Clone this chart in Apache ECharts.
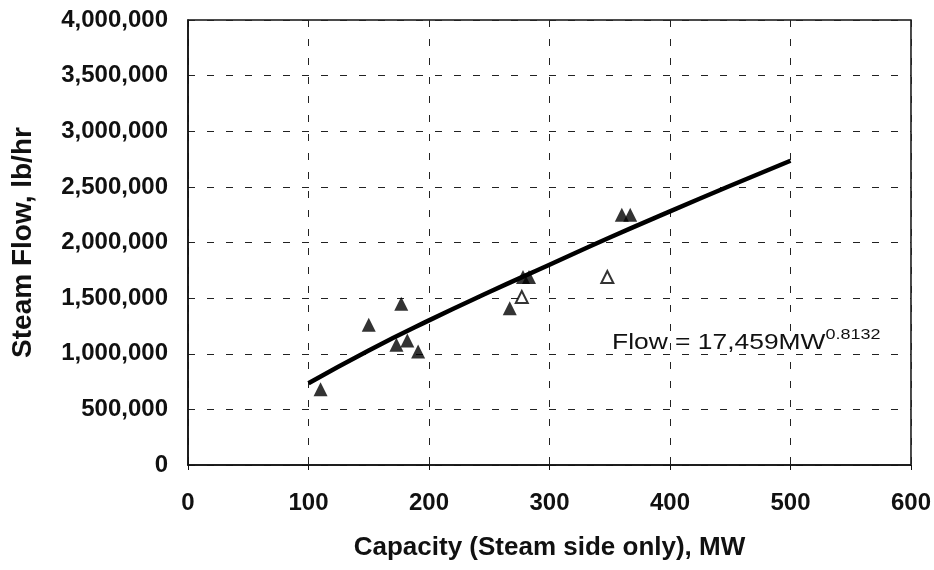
<!DOCTYPE html>
<html>
<head>
<meta charset="utf-8">
<title>Steam Flow vs Capacity</title>
<script src="https://cdn.jsdelivr.net/npm/echarts@6/dist/echarts.min.js"></script>
<style>
  html, body { margin: 0; padding: 0; background: #fff; }
  #chart { width: 934px; height: 570px; }
</style>
</head>
<body>
<div id="chart"></div>
<script>
// values
var xTicks = [0, 100, 200, 300, 400, 500, 600];
var filledPoints = [
    [110, 680000], [150, 1260000], [177, 1450000], [173, 1080000],
    [182, 1120000], [191, 1020000], [267, 1410000], [278, 1690000],
    [283, 1690000], [360, 2250000], [367, 2250000]
];
var openPoints = [[348, 1690000], [277, 1510000]];
var fitLine = [
    [100, 735000], [150, 1030000], [200, 1300000], [250, 1555000],
    [300, 1800000], [350, 2045000], [400, 2280000], [450, 2510000],
    [500, 2735000]
];
var fitLabel = 'Flow = 17,459MW';
var fitExponent = '0.8132';

var chart = echarts.init(document.getElementById('chart'));
var font = 'Liberation Sans, Arial, sans-serif';
var gridStyle = { show: true, lineStyle: { color: '#222', width: 1, type: [7, 12] } };

chart.setOption({
    animation: false,
    backgroundColor: '#fff',
    grid: { left: 188, right: 22, top: 20, bottom: 105, show: true, borderColor: '#111', borderWidth: 1.5 },
    xAxis: {
        type: 'value', min: 0, max: 600, interval: 100,
        name: 'Capacity (Steam side only), MW',
        nameLocation: 'middle', nameGap: 70,
        nameTextStyle: { fontFamily: font, fontWeight: 'bold', fontSize: 26, color: '#111' },
        axisLine: { show: true, lineStyle: { color: '#111', width: 1.5 } },
        axisTick: { show: true, length: 5, lineStyle: { color: '#111' } },
        axisLabel: {
            fontFamily: font, fontWeight: 'bold', fontSize: 24, color: '#111', margin: 26,
            formatter: function (v) { return xTicks.indexOf(v) >= 0 ? String(v) : ''; }
        },
        splitLine: gridStyle
    },
    yAxis: {
        type: 'value', min: 0, max: 4000000, interval: 500000,
        name: 'Steam Flow, lb/hr',
        nameLocation: 'middle', nameGap: 151,
        nameTextStyle: { fontFamily: font, fontWeight: 'bold', fontSize: 28, color: '#111' },
        axisLine: { show: true, lineStyle: { color: '#111', width: 1.5 } },
        axisTick: { show: false },
        axisLabel: {
            fontFamily: font, fontWeight: 'bold', fontSize: 24, color: '#111', margin: 20,
            formatter: function (v) { return v.toLocaleString('en-US'); }
        },
        splitLine: gridStyle
    },
    series: [
        {
            type: 'line', data: fitLine, smooth: true, showSymbol: false,
            lineStyle: { color: '#000', width: 4.5 }, z: 3
        },
        {
            type: 'scatter', data: filledPoints, symbol: 'triangle', symbolSize: 14,
            itemStyle: { color: '#000' }, z: 4
        },
        {
            type: 'scatter', data: openPoints, symbol: 'triangle', symbolSize: 12,
            itemStyle: { color: '#fff', borderColor: '#000', borderWidth: 2 }, z: 4
        }
    ],
    graphic: [{
        type: 'text', x: 612, y: 327, scaleX: 1.2, z: 10,
        style: {
            text: '{a|' + fitLabel + '}{s|' + fitExponent + '}',
            rich: {
                a: { fontFamily: font, fontSize: 22, fill: '#111', verticalAlign: 'bottom', lineHeight: 26 },
                s: { fontFamily: font, fontSize: 15, fill: '#111', verticalAlign: 'top', padding: [0, 0, 12, 0] }
            }
        }
    }]
});
</script>
</body>
</html>
